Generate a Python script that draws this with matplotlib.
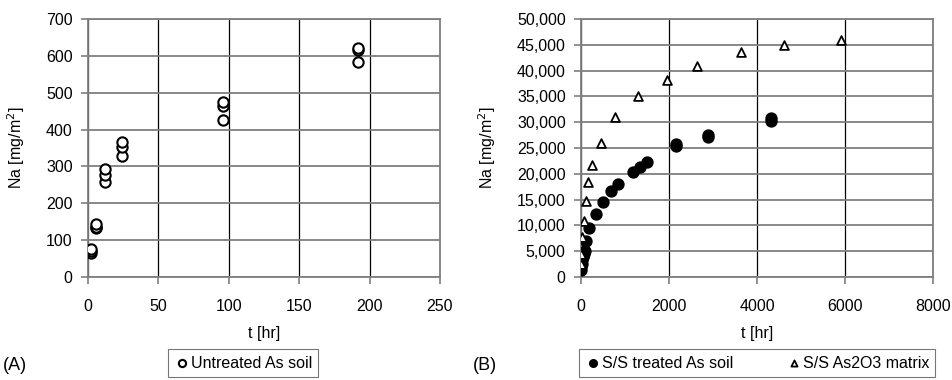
import numpy as np
import matplotlib.pyplot as plt
from matplotlib.ticker import FuncFormatter

plt.rcParams['font.family'] = ['Liberation Sans', 'DejaVu Sans']

# (A) untreated soil, three replicates per sampling time
untreated_t = [2, 2, 2, 6, 6, 6, 12, 12, 12, 24, 24, 24, 96, 96, 96, 192, 192, 192]
untreated_na = [65, 70, 75, 132, 137, 143, 258, 278, 293, 328, 352, 365,
                427, 465, 475, 582, 617, 622]

# (B) S/S treated soil and S/S As2O3 matrix
treated_t = [2, 6, 12, 24, 48, 72, 96, 110, 180, 340, 500, 680, 840,
             1180, 1340, 1510, 2160, 2160, 2880, 2880, 4310, 4310]
treated_na = [1300, 1900, 2500, 3200, 3900, 4400, 5000, 6900, 9400, 12300,
              14600, 16700, 18000, 20300, 21300, 22200, 25300, 25800,
              27100, 27600, 30300, 30800]
matrix_t = [2, 6, 24, 72, 110, 170, 260, 450, 780, 1300, 1950, 2640,
            3630, 4620, 5910]
matrix_na = [2500, 4500, 7800, 10800, 14700, 18400, 21800, 26000, 31000,
             35100, 38200, 40900, 43600, 44900, 46000]

fig = plt.figure(figsize=(9.53, 3.8), dpi=100)
W, H = 953, 380
axA = fig.add_axes([88 / W, 1 - 277 / H, 352 / W, 258 / H])
axB = fig.add_axes([581 / W, 1 - 277 / H, 352 / W, 258 / H])

FS = 11.5


def style(ax, ylab_x):
    ax.set_axisbelow(True)
    ax.grid(axis='y', color='#7f7f7f', lw=1.3)
    ax.grid(axis='x', color='black', lw=0.9)
    for s in ax.spines.values():
        s.set_color('#7f7f7f')
        s.set_linewidth(1.3)
    ax.tick_params(colors='#7f7f7f', length=5, width=1.2, labelcolor='black',
                   labelsize=FS)
    ax.tick_params(axis='x', pad=10.5)
    ax.tick_params(axis='y', pad=6)
    ax.set_xlabel('t [hr]', fontsize=FS)
    ax.set_ylabel('Na [mg/m$^2$]', fontsize=FS)
    ax.xaxis.set_label_coords(0.5, -0.19)
    ax.yaxis.set_label_coords(ylab_x, 0.5)


style(axA, -0.173)
axA.scatter(untreated_t, untreated_na, s=55, facecolors='white',
            edgecolors='black', linewidths=1.5, zorder=3,
            label='Untreated As soil')
axA.set_xlim(0, 250)
axA.set_ylim(0, 700)
axA.set_xticks(np.arange(0, 251, 50))
axA.set_yticks(np.arange(0, 701, 100))

style(axB, -0.236)
axB.scatter(treated_t, treated_na, s=62, color='black', zorder=3,
            label='S/S treated As soil')
axB.scatter(matrix_t, matrix_na, s=40, marker='^', facecolors='white',
            edgecolors='black', linewidths=1.3, zorder=4,
            label='S/S As2O3 matrix')
axB.set_xlim(0, 8000)
axB.set_ylim(0, 50000)
axB.set_xticks(np.arange(0, 8001, 2000))
axB.set_yticks(np.arange(0, 50001, 5000))
axB.yaxis.set_major_formatter(FuncFormatter(lambda v, p: f'{int(v):,}'))

legA = fig.legend(*axA.get_legend_handles_labels(), loc='center',
                  bbox_to_anchor=(243 / W, 1 - 363 / H), fontsize=FS,
                  frameon=True, fancybox=False, handletextpad=0.05,
                  borderpad=0.4, handlelength=1.0, markerscale=0.7)
legB = fig.legend(*axB.get_legend_handles_labels(), loc='center', ncol=2,
                  bbox_to_anchor=(757 / W, 1 - 363 / H), fontsize=FS,
                  frameon=True, fancybox=False, handletextpad=0.05,
                  borderpad=0.4, handlelength=1.0, columnspacing=3.3,
                  markerscale=0.7)
for leg in (legA, legB):
    leg.get_frame().set_edgecolor('#555555')
    leg.get_frame().set_linewidth(0.8)

fig.text(3 / W, 1 - 365 / H, '(A)', fontsize=13, va='center')
fig.text(473 / W, 1 - 365 / H, '(B)', fontsize=13, va='center')

fig.savefig('out.png', dpi=100)
